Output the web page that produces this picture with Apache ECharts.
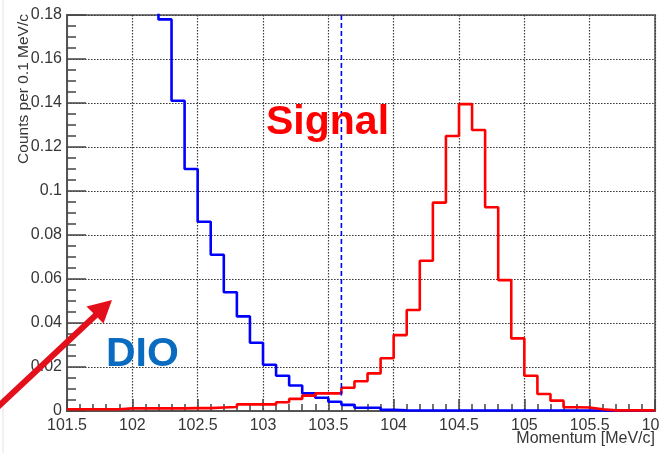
<!DOCTYPE html>
<html>
<head>
<meta charset="utf-8">
<style>
  html, body { margin: 0; padding: 0; background: #ffffff; }
  #chart { width: 659px; height: 453px; }
</style>
<script src="https://cdn.jsdelivr.net/npm/echarts@6/dist/echarts.min.js"></script>
</head>
<body>
<div id="chart"></div>
<script>
// Momentum histograms, 0.1 MeV/c bins from 101.5 to 106 MeV/c (lower bin edges)
const BIN_START = 101.5;
const BIN_WIDTH = 0.1;

// Decay-in-orbit background (clipped above 0.18 at low momentum)
const dioCounts = [
  0.52, 0.45, 0.39, 0.33, 0.28, 0.24, 0.205, 0.178, 0.141, 0.110,
  0.086, 0.071, 0.054, 0.043, 0.031, 0.021, 0.016, 0.0116, 0.008, 0.006,
  0.0042, 0.0028, 0.0015, 0.0015, 0.0005, 0.0003, 0.0002, 0.0002, 0.0002, 0.0002,
  0.0002, 0.0002, 0.0002, 0.0002, 0.0002, 0.0002, 0.0002, 0.0002, 0.0002, 0.0002,
  0.0002, 0.0001, 0.0001, 0.0001, 0.0001
];

// Conversion-electron signal
const signalCounts = [
  0.0008, 0.0008, 0.0008, 0.0008, 0.0012, 0.0012, 0.0012, 0.0012, 0.0012, 0.0013,
  0.0013, 0.0016, 0.0018, 0.003, 0.003, 0.003, 0.004, 0.0055, 0.007, 0.008,
  0.008, 0.0106, 0.0135, 0.0171, 0.024, 0.0345, 0.0459, 0.0683, 0.0947, 0.125,
  0.1395, 0.1277, 0.0926, 0.0595, 0.033, 0.016, 0.0077, 0.0047, 0.0017, 0.0016,
  0.0008, 0.0003, 0.0003, 0.0003, 0.0003
];

// Momentum cut
const cutMomentum = 103.6;
const cutTop = 0.18;
const cutBottom = 0.007;

const xTickLabels = ['101.5', '102', '102.5', '103', '103.5', '104', '104.5', '105', '105.5', '106'];
const yTickLabels = ['0', '0.02', '0.04', '0.06', '0.08', '0.1', '0.12', '0.14', '0.16', '0.18'];

// Turn per-bin contents into step points (lower edge, value) plus closing upper edge
function histPoints(counts) {
  const pts = counts.map((v, i) => [Math.round((BIN_START + i * BIN_WIDTH) * 10) / 10, v]);
  const last = counts[counts.length - 1];
  pts.push([Math.round((BIN_START + counts.length * BIN_WIDTH) * 10) / 10, last]);
  return pts;
}

const axisFont = { fontFamily: 'Liberation Sans, Arial, sans-serif', fontSize: 16, color: '#363636' };
const gridDots = { color: '#3c3c3c', width: 1.2, type: [1.6, 1.4] };

const chart = echarts.init(document.getElementById('chart'), null, { renderer: 'canvas' });

chart.setOption({
  animation: false,
  backgroundColor: '#ffffff',
  grid: {
    left: 67, right: 4, top: 15, bottom: 42,
    outerBoundsMode: 'none', containLabel: false,
    show: true, borderColor: '#7a7a7a', borderWidth: 2, backgroundColor: 'transparent'
  },
  xAxis: {
    type: 'value',
    min: 101.5, max: 106, interval: 0.5,
    axisLine: { show: true, onZero: false, lineStyle: { color: '#555', width: 2 } },
    axisTick: { show: true, inside: true, length: 12, lineStyle: { color: '#444', width: 1.5 } },
    minorTick: { show: true, splitNumber: 5, length: 7, lineStyle: { color: '#444', width: 1.5 } },
    splitLine: { show: true, lineStyle: gridDots },
    axisLabel: Object.assign({
      margin: 7,
      showMinLabel: true, showMaxLabel: true, hideOverlap: false,
      formatter: (v) => {
        const s = String(Math.round(v * 10) / 10);
        return xTickLabels.indexOf(s) >= 0 ? s : '';
      }
    }, axisFont)
  },
  yAxis: {
    type: 'value',
    min: 0, max: 0.18, interval: 0.02,
    axisLine: { show: true, onZero: false, lineStyle: { color: '#555', width: 2 } },
    axisTick: { show: true, inside: true, length: 19, lineStyle: { color: '#444', width: 1.5 } },
    minorTick: { show: true, splitNumber: 4, length: 9, lineStyle: { color: '#444', width: 1.5 } },
    splitLine: { show: true, lineStyle: gridDots },
    axisLabel: Object.assign({
      margin: 5,
      showMinLabel: true, showMaxLabel: true, hideOverlap: false,
      formatter: (v) => {
        const s = String(Math.round(v * 100) / 100);
        return yTickLabels.indexOf(s) >= 0 ? s : '';
      }
    }, axisFont)
  },
  series: [
    {
      name: 'DIO',
      type: 'line',
      step: 'end',
      data: histPoints(dioCounts),
      showSymbol: false,
      clip: true,
      lineStyle: { color: '#0000ff', width: 2.6 },
      z: 3
    },
    {
      name: 'Signal',
      type: 'line',
      step: 'end',
      data: histPoints(signalCounts),
      showSymbol: false,
      clip: true,
      lineStyle: { color: '#ff0000', width: 2.6 },
      z: 4
    },
    {
      name: 'cut',
      type: 'line',
      data: [[cutMomentum, cutTop], [cutMomentum, cutBottom]],
      showSymbol: false,
      lineStyle: { color: '#0000ff', width: 1.6, type: [5, 3] },
      z: 5
    }
  ],
  graphic: [
    // faint slide edge
    { type: 'line', shape: { x1: 3, y1: 0, x2: 3, y2: 453 }, style: { stroke: '#e2e2e2', lineWidth: 1 }, z: 1 },
    // y axis title
    {
      type: 'text', x: 24, y: 14, rotation: Math.PI / 2,
      style: {
        text: 'Counts per 0.1 MeV/c', align: 'right', verticalAlign: 'middle',
        fontFamily: 'Liberation Sans, Arial, sans-serif', fontSize: 15.5, fill: '#363636'
      }
    },
    // x axis title
    {
      type: 'text', x: 655, y: 439,
      style: {
        text: 'Momentum [MeV/c]', align: 'right', verticalAlign: 'middle',
        fontFamily: 'Liberation Sans, Arial, sans-serif', fontSize: 16, fill: '#363636'
      }
    },
    // annotations
    {
      type: 'text', x: 266, y: 123,
      style: {
        text: 'Signal', align: 'left', verticalAlign: 'middle',
        fontFamily: 'Liberation Sans, Arial, sans-serif', fontWeight: 'bold', fontSize: 41, fill: '#ff0000'
      },
      z: 10
    },
    {
      type: 'text', x: 106, y: 355,
      style: {
        text: 'DIO', align: 'left', verticalAlign: 'middle',
        fontFamily: 'Liberation Sans, Arial, sans-serif', fontWeight: 'bold', fontSize: 41, fill: '#0a6cc0'
      },
      z: 10
    },
    // arrow pointing to the DIO region
    {
      type: 'line', shape: { x1: -12, y1: 416, x2: 97, y2: 314 },
      style: { stroke: '#e3101c', lineWidth: 6 }, z: 10
    },
    {
      type: 'polygon', shape: { points: [[112, 300], [86.5, 306.5], [103.5, 323.5]] },
      style: { fill: '#e3101c' }, z: 10
    }
  ]
});
</script>
</body>
</html>
